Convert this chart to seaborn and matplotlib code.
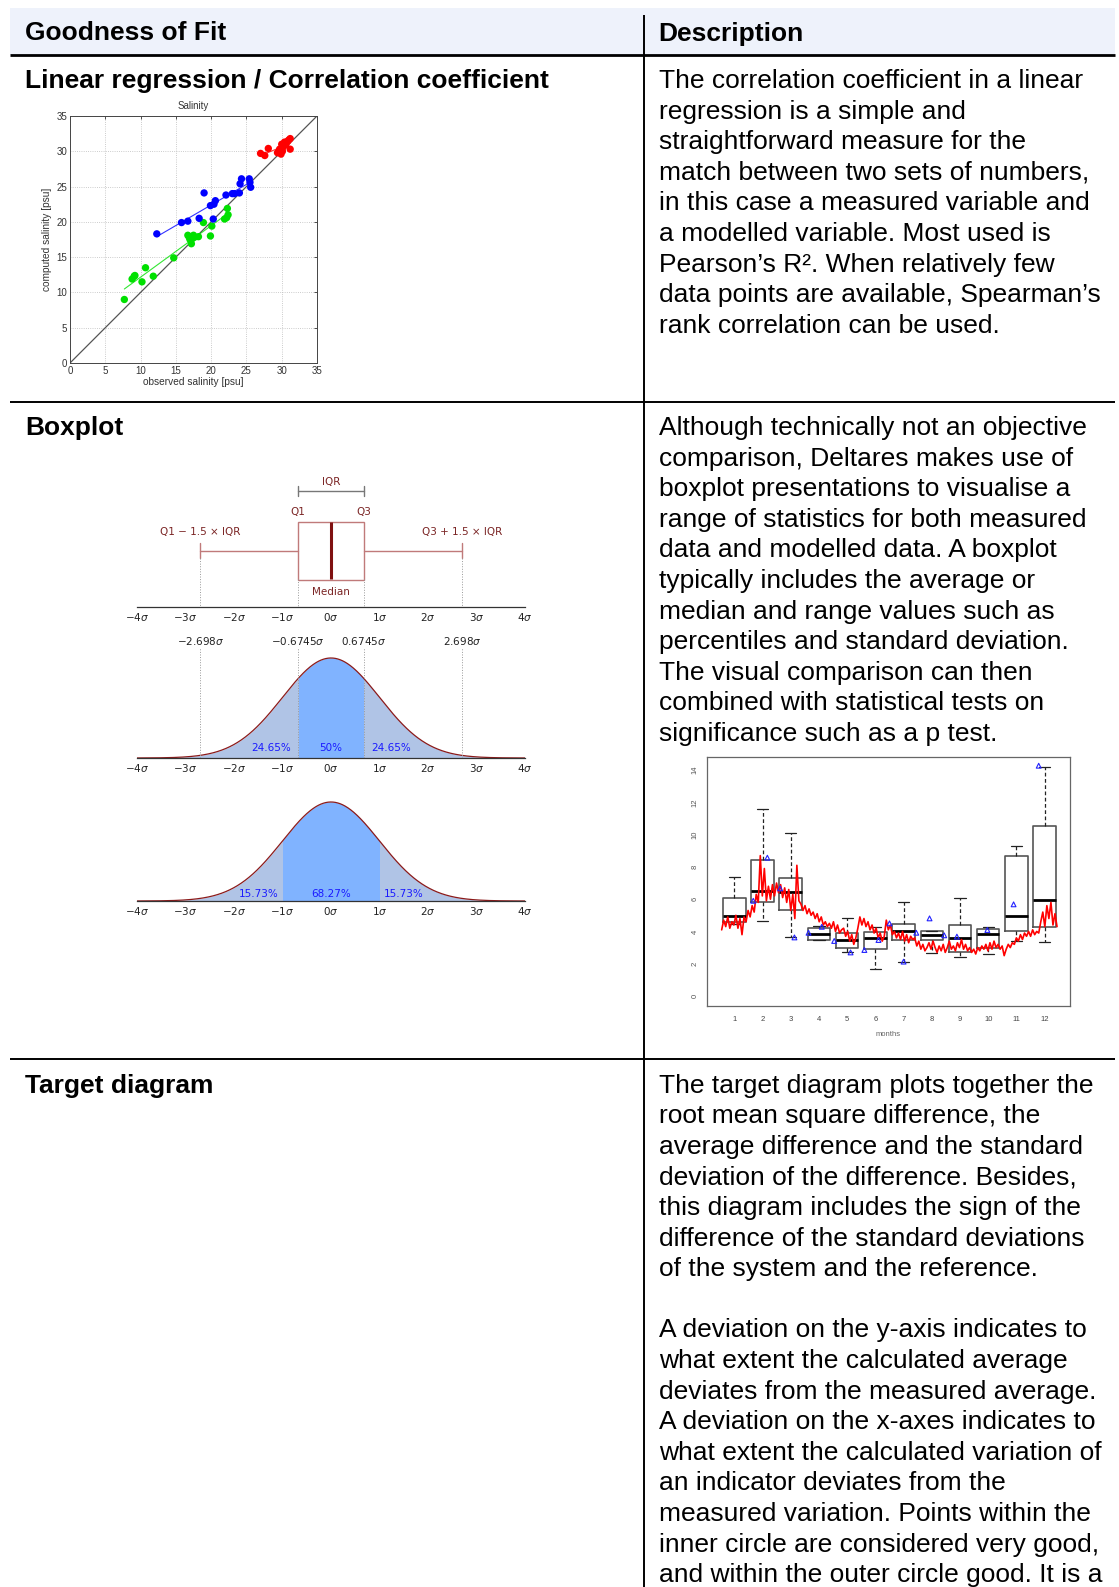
import numpy as np
import pandas as pd
import matplotlib
matplotlib.use("Agg")
import matplotlib.pyplot as plt
import seaborn as sns
from matplotlib.patches import Rectangle

sns.set_style("white")
plt.rcParams["font.family"] = ["Liberation Sans", "DejaVu Sans"]
plt.rcParams["mathtext.fontset"] = "dejavusans"
plt.rcParams["text.color"] = "black"

W, H = 1119, 1587

# ---------------- data: salinity scatter ----------------
green_obs = [7.7, 8.8, 9.1, 9.2, 10.2, 10.7, 11.8, 14.7, 16.7, 16.9, 17.0, 17.2,
             17.3, 17.5, 17.6, 18.2, 18.9, 19.9, 20.1, 21.9, 22.2, 22.3, 22.4]
green_mod = [9.0, 11.9, 12.3, 12.4, 11.5, 13.5, 12.3, 14.9, 18.1, 17.8, 17.5, 16.9,
             17.6, 18.1, 17.8, 17.9, 19.9, 18.0, 19.4, 20.4, 20.6, 21.9, 21.0]
blue_obs = [12.3, 15.8, 16.7, 18.3, 19.0, 19.9, 20.3, 20.4, 20.6, 22.1, 23.0, 23.3,
            24.0, 24.1, 24.3, 25.4, 25.5, 25.6]
blue_mod = [18.3, 19.9, 20.1, 20.5, 24.1, 22.3, 20.4, 22.5, 23.0, 23.8, 24.0, 24.0,
            24.1, 25.4, 26.1, 26.1, 25.6, 24.9]
red_obs = [27.0, 27.6, 28.1, 29.4, 29.7, 29.9, 30.0, 30.1, 30.2, 30.4, 30.6, 30.8,
           31.0, 31.2, 31.2, 30.5]
red_mod = [29.7, 29.4, 30.4, 29.8, 30.3, 29.6, 31.0, 30.0, 30.6, 31.3, 31.0, 31.4,
           31.6, 31.8, 30.3, 30.9]
sal_ticks = [0, 5, 10, 15, 20, 25, 30, 35]

# ---------------- data: boxplot vs normal distribution ----------------
sigma_ticks = [-4, -3, -2, -1, 0, 1, 2, 3, 4]
q1_sig, q3_sig, whisk_sig = -0.6745, 0.6745, 2.698
pct_top = ["24.65%", "50%", "24.65%"]
pct_bottom = ["15.73%", "68.27%", "15.73%"]

# ---------------- data: monthly boxplot ----------------
months = [1, 2, 3, 4, 5, 6, 7, 8, 9, 10, 11, 12]
box_lo = [4.45, 4.65, 3.65, 3.45, 2.75, 1.65, 2.1, 2.65, 2.4, 2.6, 3.4, 3.35]
box_q1 = [4.6, 5.8, 5.35, 3.5, 2.95, 2.9, 3.5, 3.45, 2.75, 3.0, 4.0, 4.3]
box_med = [4.95, 6.5, 6.45, 3.85, 3.45, 3.6, 4.05, 3.8, 3.6, 3.85, 4.95, 5.95]
box_q3 = [6.1, 8.4, 7.3, 4.2, 3.9, 3.95, 4.45, 4.0, 4.4, 4.15, 8.7, 10.55]
box_hi = [7.35, 11.6, 10.1, 4.35, 4.85, 4.25, 5.8, 4.0, 6.1, 4.25, 9.3, 14.2]
tri_month = [1.67, 2.17, 2.62, 3.13, 3.63, 4.10, 4.54, 5.12, 5.61, 6.11, 6.50,
             7.0, 7.45, 7.92, 8.44, 8.89, 9.97, 10.9, 11.79]
tri_val = [5.9, 8.57, 6.67, 3.63, 3.92, 4.29, 3.41, 2.70, 2.85, 3.47, 4.5,
           2.13, 3.92, 4.81, 3.76, 3.68, 4.09, 5.68, 14.27]
series_val = [
    4.1, 4.7, 4.3, 4.9, 4.2, 4.6,
    4.4, 5.0, 4.2, 4.8, 3.8, 4.9,
    4.6, 5.3, 4.9, 5.6, 5.2, 6.3, 5.8,
    8.7, 6.2, 7.9, 5.9, 6.8, 6.0,
    6.9, 6.2, 7.0, 6.4, 6.9, 6.1, 6.7,
    5.8, 6.6, 5.3, 6.3, 4.8, 8.1, 5.9,
    5.7, 5.3, 5.6, 5.1, 5.4, 5.0, 5.2,
    4.8, 5.1, 4.6, 4.9, 4.4, 4.6, 4.3,
    4.5, 4.2, 4.6, 4.0, 4.4, 3.9, 4.1,
    4.2, 3.7, 4.0, 3.4, 3.8, 3.2, 3.6,
    4.2, 4.9, 4.4, 4.8, 4.3, 4.6, 4.1,
    4.4, 3.9, 4.2, 3.6, 3.9, 3.4, 3.7,
    4.7, 4.1, 4.4, 3.8, 4.0, 3.6, 3.9,
    3.5, 4.0, 3.4, 3.8, 3.3, 3.7, 3.5,
    3.6, 3.1, 3.4, 2.9, 3.2, 2.8, 3.0,
    3.3, 2.9, 3.4, 3.0, 2.7, 3.1, 2.8,
    3.2, 2.7, 3.0, 3.4, 2.9, 3.1, 2.8,
    3.3, 3.0, 3.5, 2.9, 3.2, 2.8, 3.0,
    2.7, 2.9, 2.6, 3.0, 2.8, 3.1, 2.9,
    3.2, 2.8, 3.3, 2.9, 3.4, 3.0, 3.2,
    2.9, 3.1, 2.5, 2.9, 3.2, 3.0, 3.3,
    3.2, 3.6, 3.4, 3.8, 3.5, 3.9, 3.7,
    4.0, 3.7, 4.1, 3.8, 4.0, 3.9, 4.6,
    5.2, 4.3, 5.6, 4.8, 5.8, 4.4, 5.1, 4.3,
]
series_start, series_end = 0.55, 12.44

# ---------------- text ----------------
header_left = "Goodness of Fit"
header_right = "Description"
title1 = "Linear regression / Correlation coefficient"
title2 = "Boxplot"
title3 = "Target diagram"
desc1 = ["The correlation coefficient in a linear",
         "regression is a simple and",
         "straightforward measure for the",
         "match between two sets of numbers,",
         "in this case a measured variable and",
         "a modelled variable. Most used is",
         "Pearson\u2019s R\u00b2. When relatively few",
         "data points are available, Spearman\u2019s",
         "rank correlation can be used."]
desc2 = ["Although technically not an objective",
         "comparison, Deltares makes use of",
         "boxplot presentations to visualise a",
         "range of statistics for both measured",
         "data and modelled data. A boxplot",
         "typically includes the average or",
         "median and range values such as",
         "percentiles and standard deviation.",
         "The visual comparison can then",
         "combined with statistical tests on",
         "significance such as a p test."]
desc3 = ["The target diagram plots together the",
         "root mean square difference, the",
         "average difference and the standard",
         "deviation of the difference. Besides,",
         "this diagram includes the sign of the",
         "difference of the standard deviations",
         "of the system and the reference.",
         "",
         "A deviation on the y-axis indicates to",
         "what extent the calculated average",
         "deviates from the measured average.",
         "A deviation on the x-axes indicates to",
         "what extent the calculated variation of",
         "an indicator deviates from the",
         "measured variation. Points within the",
         "inner circle are considered very good,",
         "and within the outer circle good. It is a"]

# ======================================================
fig = plt.figure(figsize=(W / 100, H / 100), dpi=100)
fig.patch.set_facecolor("white")


def pax(x0, y0, x1, y1):
    return fig.add_axes([x0 / W, 1 - y1 / H, (x1 - x0) / W, (y1 - y0) / H])


bg = fig.add_axes([0, 0, 1, 1], zorder=-5)
bg.set_xlim(0, W)
bg.set_ylim(H, 0)
bg.axis("off")

# table structure
bg.add_patch(Rectangle((10, 8), 1105, 47, color="#eef2fb", lw=0))
bg.plot([10, 1115], [55, 55], color="black", lw=2.0, solid_capstyle="butt")
bg.plot([10, 1115], [401.7, 401.7], color="black", lw=1.4, solid_capstyle="butt")
bg.plot([10, 1115], [1059.4, 1059.4], color="black", lw=1.4, solid_capstyle="butt")
bg.plot([643.5, 643.5], [15, H], color="black", lw=1.4, solid_capstyle="butt")

FS = 19
LS = 30.6
XL, XR = 25.3, 658.7
bg.text(XL, 40.5, header_left, fontsize=FS, fontweight="bold", va="baseline", color="black")
bg.text(XR, 40.5, header_right, fontsize=FS, fontweight="bold", va="baseline", color="black")
for title, y0, lines in [(title1, 88.0, desc1), (title2, 435.0, desc2), (title3, 1092.6, desc3)]:
    bg.text(XL, y0, title, fontsize=FS, fontweight="bold", va="baseline", color="black")
    for i, ln in enumerate(lines):
        bg.text(XR, y0 + i * LS, ln, fontsize=FS, va="baseline", color="black")

# ---------------- scatter ----------------
df = pd.DataFrame({
    "obs": green_obs + blue_obs + red_obs,
    "mod": green_mod + blue_mod + red_mod,
    "grp": ["g"] * len(green_obs) + ["b"] * len(blue_obs) + ["r"] * len(red_obs),
})
pal = {"g": "#00e000", "b": "#0000ff", "r": "#ff0000"}
axS = pax(70, 116, 317, 363)
axS.grid(True, color="#bbbbbb", ls=":", lw=0.6)
axS.axline((0, 0), slope=1, color="#555555", lw=0.9, zorder=1)
for g in ["g", "b", "r"]:
    sub = df[df.grp == g]
    sns.regplot(data=sub, x="obs", y="mod", ax=axS, scatter=False, ci=None,
                color=pal[g], line_kws=dict(lw=0.8, alpha=0.8))
sns.scatterplot(data=df, x="obs", y="mod", hue="grp", palette=pal, ax=axS,
                s=28, edgecolor="none", legend=False, zorder=3)
axS.set_xlim(0, 35)
axS.set_ylim(0, 35)
axS.set_xticks(sal_ticks)
axS.set_yticks(sal_ticks)
axS.tick_params(direction="in", length=2.5, width=0.6, labelsize=7, colors="#333333",
                top=True, right=True, pad=2)
for sp in axS.spines.values():
    sp.set_color("#444444")
    sp.set_linewidth(0.7)
axS.set_xlabel("observed salinity [psu]", fontsize=7.3, color="#333333", labelpad=1)
axS.set_ylabel("computed salinity [psu]", fontsize=7.3, color="#333333", labelpad=3)
axS.set_title("Salinity", fontsize=7, color="#333333", pad=5)

# ---------------- boxplot vs pdf ----------------
box_col = "#c07a7a"
med_col = "#7f1010"
txt_col = "#7a2424"
tail_col = "#b0c4e6"
mid_col = "#80b3ff"
sig_labels = [rf"${t}\sigma$" for t in sigma_ticks]


def sigma_axis(ax):
    ax.set_xlim(-4, 4)
    for s in ["top", "left", "right"]:
        ax.spines[s].set_visible(False)
    ax.spines["bottom"].set_color("#333333")
    ax.spines["bottom"].set_linewidth(0.9)
    ax.set_xticks(sigma_ticks)
    ax.set_xticklabels(sig_labels)
    ax.set_yticks([])
    ax.tick_params(axis="x", direction="in", length=4, width=0.8, labelsize=7.5,
                   colors="#222222", pad=3)
    ax.patch.set_alpha(0)


axA = pax(137, 470, 525, 607)
sigma_axis(axA)
axA.set_ylim(607, 470)
axA.add_patch(Rectangle((q1_sig, 522), q3_sig - q1_sig, 57.5, fill=False, ec=box_col, lw=1.0))
axA.plot([0, 0], [522, 579.5], color=med_col, lw=2.2, solid_capstyle="butt")
axA.plot([-whisk_sig, q1_sig], [550.7, 550.7], color=box_col, lw=1.0)
axA.plot([q3_sig, whisk_sig], [550.7, 550.7], color=box_col, lw=1.0)
for xw in [-whisk_sig, whisk_sig]:
    axA.plot([xw, xw], [543, 558], color=box_col, lw=1.0)
    axA.plot([xw, xw], [558, 607], color="#999999", lw=0.7, ls=":")
for xq in [q1_sig, q3_sig]:
    axA.plot([xq, xq], [579.5, 607], color="#999999", lw=0.7, ls=":")
axA.plot([q1_sig, q3_sig], [490.7, 490.7], color="#777777", lw=1.0)
for xq in [q1_sig, q3_sig]:
    axA.plot([xq, xq], [486, 496], color="#777777", lw=1.0)
tk = dict(fontsize=7.5, color=txt_col, ha="center", va="center", family="DejaVu Sans")
axA.text(0, 481.5, "IQR", **tk)
axA.text(q1_sig, 512.5, "Q1", **tk)
axA.text(q3_sig, 512.5, "Q3", **tk)
axA.text(-whisk_sig, 531.5, "Q1 \u2212 1.5 \u00d7 IQR", **tk)
axA.text(whisk_sig, 531.5, "Q3 + 1.5 \u00d7 IQR", **tk)
axA.text(0, 592.5, "Median", **tk)

xs = np.linspace(-4, 4, 801)
pdf = np.exp(-xs ** 2 / 2) / np.sqrt(2 * np.pi)

axB = pax(137, 648, 525, 758)
sigma_axis(axB)
axB.set_ylim(0, 0.3989 * 110 / 100)
axB.fill_between(xs, pdf, color=tail_col, lw=0)
axB.fill_between(xs, pdf, where=np.abs(xs) <= q3_sig + 1e-9, color=mid_col, lw=0)
sns.lineplot(x=xs, y=pdf, ax=axB, color="#8b1a1a", lw=0.9)
for xv in [-whisk_sig, q1_sig, q3_sig, whisk_sig]:
    axB.axvline(xv, color="#999999", lw=0.7, ls=":", ymax=1)
    axB.text(xv, 1.005, rf"${xv:g}\sigma$" if abs(xv) > 1 else rf"${xv:.4f}\sigma$",
             transform=axB.get_xaxis_transform(), ha="center", va="bottom",
             fontsize=7.5, color="#222222")
for xp, lab in zip([-1.24, 0, 1.24], pct_top):
    axB.text(xp, 0.04, lab, ha="center", va="center", fontsize=7.5, color="#1a1aff",
             family="DejaVu Sans")

axC = pax(137, 785, 525, 901)
sigma_axis(axC)
axC.set_ylim(0, 0.3989 * 116 / 99)
axC.fill_between(xs, pdf, color=tail_col, lw=0)
axC.fill_between(xs, pdf, where=np.abs(xs) <= 1 + 1e-9, color=mid_col, lw=0)
sns.lineplot(x=xs, y=pdf, ax=axC, color="#8b1a1a", lw=0.9)
for xp, lab in zip([-1.5, 0, 1.5], pct_bottom):
    axC.text(xp, 0.028, lab, ha="center", va="center", fontsize=7.5, color="#1a1aff",
             family="DejaVu Sans")

# ---------------- monthly boxplot ----------------
axR = pax(707, 757, 1070, 1006)
stats = [dict(med=m, q1=a, q3=b, whislo=lo, whishi=hi, fliers=[])
         for m, a, b, lo, hi in zip(box_med, box_q1, box_q3, box_lo, box_hi)]
axR.bxp(stats, positions=months, widths=0.8, capwidths=0.4, showfliers=False,
        manage_ticks=False,
        boxprops=dict(color="#555555", lw=1.2),
        medianprops=dict(color="black", lw=2.0, solid_capstyle="butt"),
        whiskerprops=dict(color="#222222", lw=0.9, ls=(0, (3, 2))),
        capprops=dict(color="#222222", lw=0.9))
series_x = np.linspace(series_start, series_end, len(series_val))
sns.lineplot(x=series_x, y=series_val, ax=axR, color="#ff0000", lw=1.2, zorder=3)
axR.scatter(tri_month, tri_val, marker="^", facecolors="none", edgecolors="#2222ff",
            s=12, lw=0.8, zorder=4)
axR.set_xlim(0.03, 12.9)
axR.set_ylim(-0.62, 14.81)
axR.set_xticks(months)
axR.set_yticks(list(range(0, 15, 2)))
axR.tick_params(axis="y", direction="out", length=4, width=0.7, labelsize=5.5,
                colors="#555555", labelrotation=90, pad=2)
axR.tick_params(axis="x", direction="out", length=4, width=0.7, labelsize=5.5,
                colors="#444444", pad=3)
for lab in axR.get_yticklabels():
    lab.set_va("center")
for sp in axR.spines.values():
    sp.set_color("#666666")
    sp.set_linewidth(0.9)
axR.set_xlabel("months", fontsize=5.5, color="#666666", labelpad=6)
axR.set_ylabel("")

fig.savefig("out.png", dpi=100)
